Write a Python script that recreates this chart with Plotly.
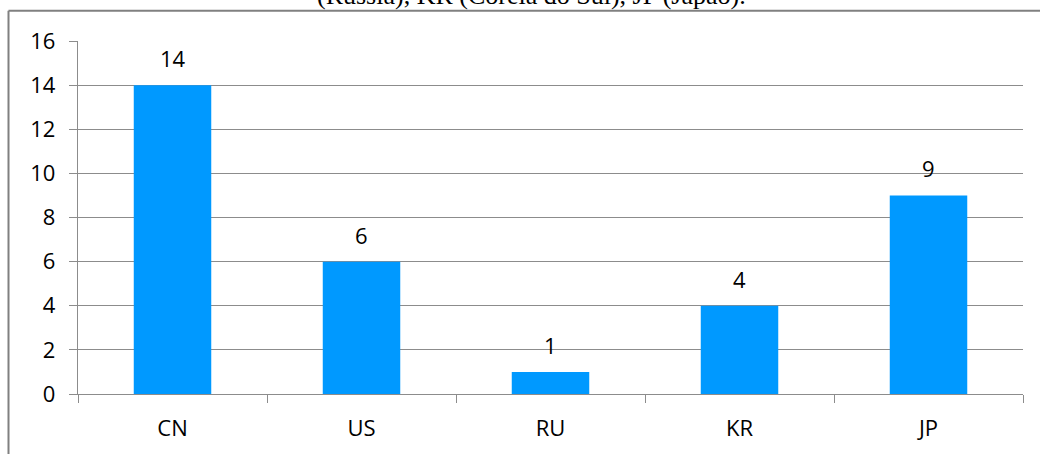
import plotly.graph_objects as go

# Country codes and counts
countries = ["CN", "US", "RU", "KR", "JP"]
counts = [14, 6, 1, 4, 9]
y_ticks = [0, 2, 4, 6, 8, 10, 12, 14, 16]
caption = "(Rússia), KR (Coreia do Sul), JP (Japão)."

W, H = 1040, 454
ML, MR, MT, MB = 78, 17, 41, 58
plot_w = W - ML - MR
plot_h = H - MT - MB

axis_font = dict(family="Open Sans, sans-serif", size=22, color="#000000")
line_col = "#8c8c8c"

fig = go.Figure(
    go.Bar(
        x=countries,
        y=counts,
        marker=dict(color="#0099ff", line=dict(width=0)),
        hoverinfo="x+y",
    )
)

# Value labels above each bar
for c, v in zip(countries, counts):
    fig.add_annotation(
        x=c, y=v, xref="x", yref="y",
        text=str(v), showarrow=False,
        yanchor="middle", xanchor="center", yshift=27,
        font=axis_font,
    )

# Caption line at the top, partly outside the frame
fig.add_annotation(
    x=(531 - ML) / plot_w, y=(H - MB + 5) / plot_h,
    xref="paper", yref="paper",
    text=caption, showarrow=False,
    xanchor="center", yanchor="middle",
    font=dict(family="Liberation Serif, Times New Roman, serif", size=26, color="#000000"),
)

# Outer frame lines (top and left)
top_y = (H - MB - 10.5) / plot_h
left_x = (8.5 - ML) / plot_w
fig.add_shape(type="line", xref="paper", yref="paper",
              x0=left_x, x1=(W + 5 - ML) / plot_w, y0=top_y, y1=top_y,
              line=dict(color="#808080", width=2))
fig.add_shape(type="line", xref="paper", yref="paper",
              x0=left_x, x1=left_x, y0=top_y, y1=-(MB + 5) / plot_h,
              line=dict(color="#808080", width=2))

fig.update_layout(
    width=W, height=H,
    margin=dict(l=ML, r=MR, t=MT, b=MB, pad=0),
    paper_bgcolor="#ffffff",
    plot_bgcolor="#ffffff",
    bargap=0.59,
    showlegend=False,
    xaxis=dict(
        type="category",
        tickson="boundaries",
        ticks="outside", ticklen=8, tickwidth=1.3, tickcolor=line_col,
        showline=True, linecolor=line_col, linewidth=1.3,
        showgrid=False,
        tickfont=axis_font,
        ticklabelstandoff=14,
    ),
    yaxis=dict(
        range=[0, 16],
        tickvals=y_ticks,
        ticks="outside", ticklen=8, tickwidth=1.3, tickcolor=line_col,
        showline=True, linecolor=line_col, linewidth=1.3,
        showgrid=True, gridcolor=line_col, gridwidth=1.3,
        zeroline=False,
        tickfont=axis_font,
        ticklabelstandoff=9,
    ),
)

fig.write_html("out.html")
